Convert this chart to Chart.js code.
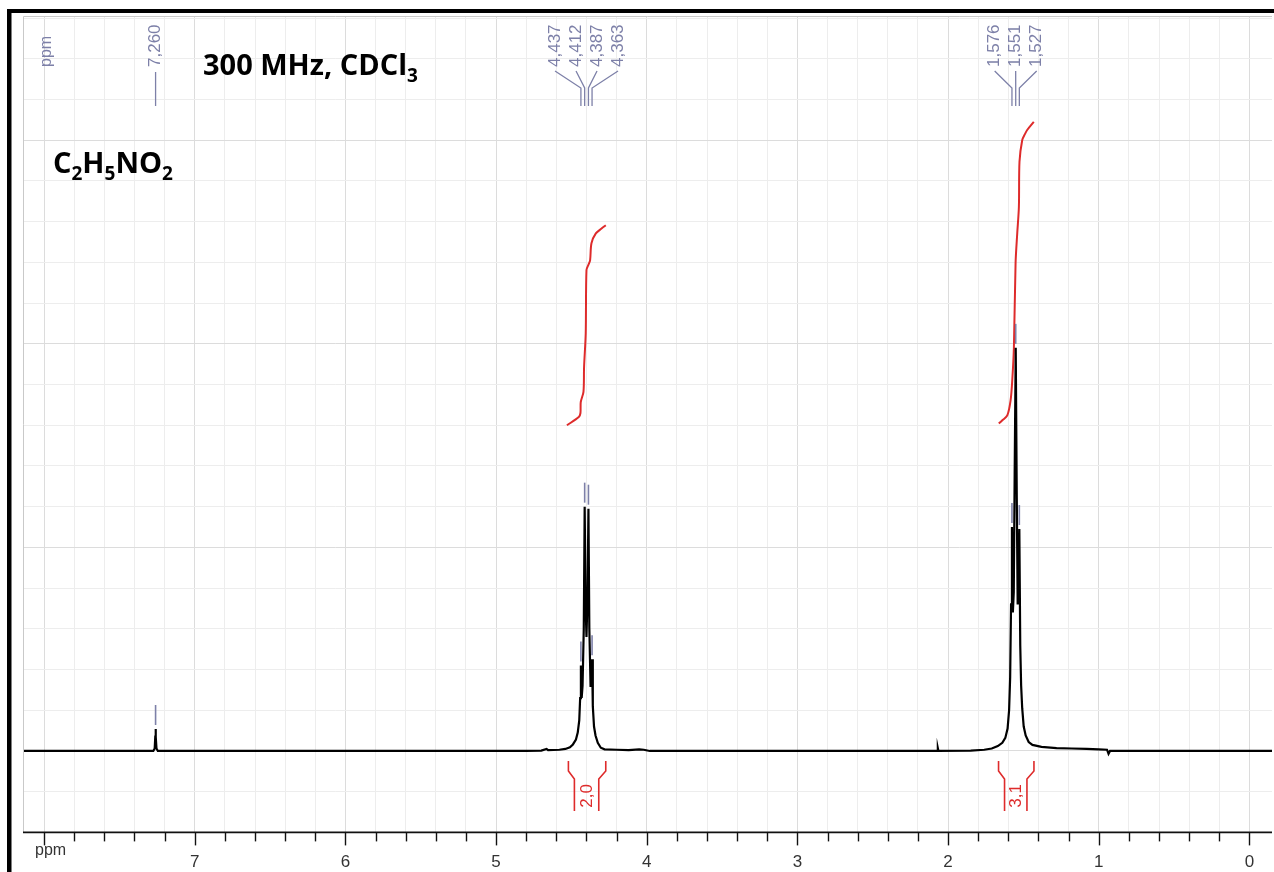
<!DOCTYPE html>
<html>
<head>
<meta charset="utf-8">
<script src="https://cdn.jsdelivr.net/npm/chart.js@4.4.1/dist/chart.umd.min.js"></script>
<style>
html,body{margin:0;padding:0;background:#fff;overflow:hidden;}
canvas{display:block;}
</style>
</head>
<body>
<canvas id="c" width="1274" height="872"></canvas>
<script>
// ---------- DATA ----------
const spectrumPpm = [8.14, 7.40, 7.275, 7.266, 7.262, 7.260, 7.258, 7.254, 7.245, 4.80, 4.70, 4.665, 4.655, 4.58, 4.54, 4.51, 4.49, 4.47, 4.458, 4.448, 4.442, 4.437, 4.432, 4.426, 4.418, 4.412, 4.406, 4.400, 4.393, 4.387, 4.381, 4.373, 4.367, 4.363, 4.358, 4.350, 4.340, 4.325, 4.305, 4.28, 4.20, 4.12, 4.05, 4.02, 3.98, 2.10, 2.072, 2.068, 2.064, 1.85, 1.76, 1.71, 1.67, 1.64, 1.62, 1.605, 1.595, 1.588, 1.582, 1.576, 1.570, 1.564, 1.558, 1.551, 1.544, 1.538, 1.532, 1.527, 1.521, 1.515, 1.508, 1.498, 1.485, 1.465, 1.44, 1.38, 1.28, 1.18, 1.08, 1.00, 0.945, 0.935, 0.925, 0.90, -0.15];
const spectrumIntensity = [0, 0, 0, 0.06, 0.35, 0.54, 0.35, 0.06, 0, 0, 0.01, 0.05, 0.02, 0.03, 0.05, 0.09, 0.16, 0.28, 0.45, 0.75, 1.3, 2.1, 1.3, 1.6, 3.0, 6.0, 3.6, 2.8, 3.8, 5.95, 3.0, 1.6, 1.6, 2.25, 1.1, 0.6, 0.38, 0.2, 0.08, 0.04, 0.03, 0.02, 0.04, 0.03, 0, 0, 0, 0.07, 0, 0.01, 0.03, 0.06, 0.12, 0.2, 0.32, 0.55, 1.0, 1.8, 3.6, 5.5, 3.4, 3.9, 6.8, 9.9, 6.2, 3.6, 3.8, 5.45, 2.6, 1.6, 1.05, 0.6, 0.38, 0.22, 0.15, 0.1, 0.07, 0.06, 0.05, 0.04, 0.03, -0.07, 0, 0, 0];

const integralAPpm = [4.53, 4.451, 4.440, 4.438, 4.420, 4.416, 4.405, 4.400, 4.386, 4.376, 4.367, 4.338, 4.300, 4.272];
const integralAValue = [8.0, 8.2, 8.3, 8.57, 8.82, 9.43, 10.26, 11.81, 11.95, 12.05, 12.47, 12.71, 12.83, 12.91];
const integralBPpm = [1.663, 1.640, 1.607, 1.585, 1.574, 1.563, 1.552, 1.541, 1.530, 1.526, 1.508, 1.490, 1.475, 1.431];
const integralBValue = [8.04, 8.12, 8.24, 8.61, 9.10, 9.92, 11.98, 12.71, 13.36, 14.47, 15.0, 15.15, 15.25, 15.45];

const peakPpm = [7.260, 4.437, 4.412, 4.387, 4.363, 1.576, 1.551, 1.527];
const peakLabels = ['7,260', '4,437', '4,412', '4,387', '4,363', '1,576', '1,551', '1,527'];
const peakGroup = [0, 1, 1, 1, 1, 2, 2, 2];

const integralStart = [4.52, 1.665];
const integralEnd = [4.272, 1.43];
const integralLabels = ['2,0', '3,1'];

const xTickLabels = ['0', '1', '2', '3', '4', '5', '6', '7'];
const xAxisUnit = 'ppm';
const titleMain = '300 MHz, CDCl';
const titleSub = '3';
const formulaParts = [['C', false], ['2', true], ['H', false], ['5', true], ['N', false], ['O', false], ['2', true]];

// ---------- STYLE ----------
const LABEL_COLOR = '#7d80a8';
const RED = '#de2b2b';

const toPoints = (xs, ys) => xs.map((v, i) => ({x: v, y: ys[i]}));

const overlay = {
  id: 'overlay',
  afterDraw(chart) {
    const {ctx, chartArea: a, scales: {x, y}} = chart;
    const line = (pts) => { ctx.beginPath(); ctx.moveTo(pts[0][0], pts[0][1]); for (let i = 1; i < pts.length; i++) ctx.lineTo(pts[i][0], pts[i][1]); ctx.stroke(); };
    ctx.save();
    // outer black frame
    ctx.fillStyle = '#000';
    ctx.fillRect(7, 9, 1274 - 7, 4);
    ctx.fillRect(7, 9, 4.5, 872 - 9);
    // chart frame
    ctx.strokeStyle = '#c9c9c9'; ctx.lineWidth = 1;
    line([[a.left + 0.5, a.bottom], [a.left + 0.5, a.top + 0.5], [a.right, a.top + 0.5]]);
    // x axis line and ticks
    ctx.strokeStyle = '#111'; ctx.lineWidth = 1.6;
    line([[a.left, a.bottom], [a.right, a.bottom]]);
    ctx.lineWidth = 1.4;
    x.ticks.forEach(t => {
      const v = t.value;
      const px = Math.round(x.getPixelForValue(v)) + 0.5;
      const major = Math.abs(v - Math.round(v)) < 1e-6;
      line([[px, a.bottom], [px, a.bottom + (major ? 13 : 9)]]);
    });
    // ppm unit under axis
    ctx.fillStyle = '#333';
    ctx.font = '16px "Liberation Sans", Arial, sans-serif';
    ctx.textAlign = 'left'; ctx.textBaseline = 'alphabetic';
    ctx.fillText(xAxisUnit, 35, a.bottom + 23);

    // rotated ppm at top-left
    ctx.fillStyle = LABEL_COLOR;
    ctx.font = '16px "Liberation Sans", Arial, sans-serif';
    ctx.save(); ctx.translate(47, 67); ctx.rotate(-Math.PI / 2);
    ctx.textAlign = 'left'; ctx.textBaseline = 'middle';
    ctx.fillText(xAxisUnit, 0, 0); ctx.restore();

    // peak labels with connectors
    const groups = {};
    peakPpm.forEach((p, i) => { (groups[peakGroup[i]] = groups[peakGroup[i]] || []).push(i); });
    ctx.strokeStyle = LABEL_COLOR; ctx.lineWidth = 1.3;
    ctx.font = '17px "Liberation Sans", Arial, sans-serif';
    Object.values(groups).forEach(idx => {
      const pxs = idx.map(i => x.getPixelForValue(peakPpm[i]));
      const c = pxs.reduce((s, v) => s + v, 0) / pxs.length;
      idx.forEach((i, k) => {
        const lx = c + (k - (idx.length - 1) / 2) * 21;
        const px = pxs[k];
        ctx.save(); ctx.translate(lx, 67); ctx.rotate(-Math.PI / 2);
        ctx.textAlign = 'left'; ctx.textBaseline = 'middle';
        ctx.fillText(peakLabels[i], 0, 0); ctx.restore();
        if (idx.length === 1) line([[px, 72], [px, 106]]);
        else line([[lx, 71], [px, 88], [px, 106]]);
      });
    });
    // peak pick marks above peaks
    ctx.lineWidth = 1.6;
    peakPpm.forEach(p => {
      const j = spectrumPpm.indexOf(p);
      const top = y.getPixelForValue(spectrumIntensity[j]);
      const px = x.getPixelForValue(p);
      line([[px, top - 4], [px, top - 24]]);
    });

    // integral brackets
    const base = y.getPixelForValue(0);
    ctx.strokeStyle = RED; ctx.fillStyle = RED; ctx.lineWidth = 1.6;
    integralStart.forEach((s, i) => {
      const x1 = x.getPixelForValue(s), x2 = x.getPixelForValue(integralEnd[i]);
      line([[x1, base + 10], [x1, base + 20], [x1 + 6, base + 28], [x1 + 6, base + 60]]);
      line([[x2, base + 10], [x2, base + 20], [x2 - 7, base + 28], [x2 - 7, base + 60]]);
      ctx.save(); ctx.translate((x1 + x2) / 2, base + 45); ctx.rotate(-Math.PI / 2);
      ctx.textAlign = 'center'; ctx.textBaseline = 'middle';
      ctx.font = '17px "Liberation Sans", Arial, sans-serif';
      ctx.fillText(integralLabels[i], 0, 0); ctx.restore();
    });

    // titles
    ctx.fillStyle = '#000'; ctx.textAlign = 'left'; ctx.textBaseline = 'alphabetic';
    ctx.font = 'bold 29px "Open Sans", sans-serif';
    ctx.fillText(titleMain, 203, 75);
    let tx = 203 + ctx.measureText(titleMain).width;
    ctx.font = 'bold 19px "Open Sans", sans-serif';
    ctx.fillText(titleSub, tx, 82);
    let fx = 53;
    formulaParts.forEach(([t, sub]) => {
      ctx.font = sub ? 'bold 19px "Open Sans", sans-serif' : 'bold 29px "Open Sans", sans-serif';
      ctx.fillText(t, fx, sub ? 180 : 173);
      fx += ctx.measureText(t).width;
    });
    ctx.restore();
  }
};

new Chart(document.getElementById('c'), {
  type: 'scatter',
  data: {
    datasets: [
      {data: toPoints(spectrumPpm, spectrumIntensity), showLine: true, borderColor: '#000', borderWidth: 2.2, pointRadius: 0, tension: 0},
      {data: toPoints(integralAPpm, integralAValue), showLine: true, borderColor: RED, borderWidth: 2, pointRadius: 0, tension: 0.3},
      {data: toPoints(integralBPpm, integralBValue), showLine: true, borderColor: RED, borderWidth: 2, pointRadius: 0, tension: 0.3}
    ]
  },
  options: {
    responsive: false,
    animation: false,
    devicePixelRatio: 1,
    layout: {padding: {left: 23, right: 2, top: 16, bottom: -20}},
    plugins: {legend: {display: false}, tooltip: {enabled: false}},
    scales: {
      x: {
        type: 'linear', reverse: true, min: -0.15, max: 8.14,
        afterBuildTicks: (s) => { const t = []; for (let k = 0; k <= 40; k++) t.push({value: Math.round(k * 2) / 10}); s.ticks = t; },
        ticks: {
          autoSkip: false, maxRotation: 0, minRotation: 0, padding: 19.6,
          color: '#333', font: {family: '"Liberation Sans", Arial, sans-serif', size: 17},
          callback: (v) => { const r = Math.round(v); return (Math.abs(v - r) < 1e-6 && r < 8) ? xTickLabels[r] : ''; }
        },
        grid: {
          drawTicks: false,
          color: (c) => { const v = c.tick ? c.tick.value : 0; return Math.abs(v - Math.round(v)) < 1e-6 ? '#dcdcdc' : '#ededed'; },
          lineWidth: 1
        },
        border: {display: false}
      },
      y: {
        type: 'linear', min: -2, max: 18.05,
        afterBuildTicks: (s) => { const t = []; for (let k = -1; k <= 18; k++) t.push({value: k}); s.ticks = t; },
        ticks: {display: false},
        grid: {
          drawTicks: false,
          color: (c) => { const v = c.tick ? c.tick.value : 0; return (v % 5 === 0) ? '#dcdcdc' : '#ededed'; },
          lineWidth: 1
        },
        border: {display: false}
      }
    }
  },
  plugins: [overlay]
});
</script>
</body>
</html>
